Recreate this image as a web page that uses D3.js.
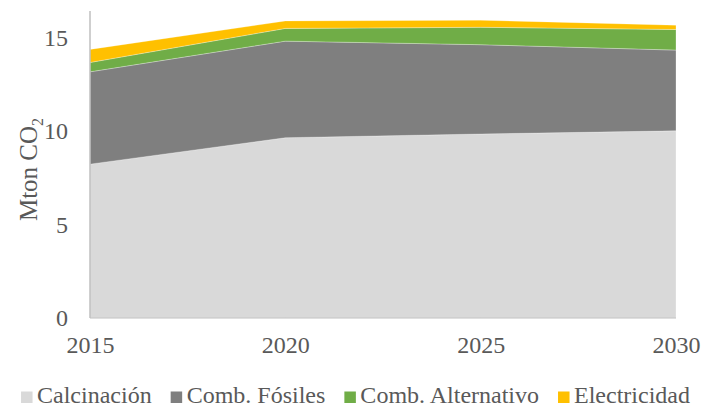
<!DOCTYPE html>
<html>
<head>
<meta charset="utf-8">
<script src="https://cdn.jsdelivr.net/npm/d3@7"></script>
<style>
  html, body { margin: 0; padding: 0; background: #fff; }
  svg { display: block; }
  text { font-family: 'Liberation Serif', serif; fill: #595959; }
</style>
</head>
<body>
<svg id="chart" width="701" height="407"></svg>
<script>
// Emissions by source, Mton CO2
const years = [2015, 2020, 2025, 2030];
const calcinacion = [8.22, 9.63, 9.83, 10.0];
const combFosiles = [4.93, 5.16, 4.77, 4.31];
const combAlternativo = [0.50, 0.68, 0.93, 1.10];
const electricidad = [0.70, 0.40, 0.38, 0.23];

const seriesNames = ["Calcinación", "Comb. Fósiles", "Comb. Alternativo", "Electricidad"];
const seriesColors = ["#d9d9d9", "#7f7f7f", "#70ad47", "#ffc000"];
const yTicks = [0, 5, 10, 15];
const yMax = 16.4;

const FONT = "'Liberation Serif', serif";
const svg = d3.select("#chart");
const plot = { left: 90, right: 676, top: 11, bottom: 318 };

const x = d3.scaleLinear().domain([years[0], years[years.length - 1]]).range([plot.left, plot.right]);
const y = d3.scaleLinear().domain([0, yMax]).range([plot.bottom, plot.top]);

const rows = years.map((yr, i) => ({
  year: yr,
  "Calcinación": calcinacion[i],
  "Comb. Fósiles": combFosiles[i],
  "Comb. Alternativo": combAlternativo[i],
  "Electricidad": electricidad[i]
}));

const stacked = d3.stack().keys(seriesNames)(rows);

const area = d3.area()
  .x(d => x(d.data.year))
  .y0(d => y(d[0]))
  .y1(d => y(d[1]));

svg.append("g").selectAll("path")
  .data(stacked)
  .join("path")
  .attr("d", area)
  .attr("fill", (d, i) => seriesColors[i])
  .attr("stroke", "rgba(255,255,255,0.35)")
  .attr("stroke-width", 0.8);

// Axis lines
svg.append("line")
  .attr("x1", x(years[0])).attr("x2", x(years[0]))
  .attr("y1", y(0)).attr("y2", y(yMax))
  .attr("stroke", "#bfbfbf").attr("stroke-width", 1.5);
svg.append("line")
  .attr("x1", x(years[0])).attr("x2", x(years[years.length - 1]))
  .attr("y1", y(0)).attr("y2", y(0))
  .attr("stroke", "#bfbfbf").attr("stroke-width", 1.2);

// Y tick labels
const yAxis = d3.axisLeft(y).tickValues(yTicks).tickSize(0).tickPadding(22).tickFormat(d3.format("d"));
const gy = svg.append("g").attr("transform", `translate(${plot.left},0)`).call(yAxis)
  .attr("font-family", FONT).attr("font-size", 24);
gy.select(".domain").remove();
gy.selectAll("text").attr("fill", "#595959").attr("dy", "0.33em");

// X tick labels
const xAxis = d3.axisBottom(x).tickValues(years).tickSize(0).tickPadding(18).tickFormat(d3.format("d"));
const gx = svg.append("g").attr("transform", `translate(0,${plot.bottom})`).call(xAxis)
  .attr("font-family", FONT).attr("font-size", 24);
gx.select(".domain").remove();
gx.selectAll("text").attr("fill", "#595959").attr("dy", "0.71em");

// Y axis title
const title = svg.append("text")
  .attr("transform", `translate(37,${(plot.top + plot.bottom) / 2 + 5}) rotate(-90)`)
  .attr("text-anchor", "middle")
  .attr("font-family", FONT)
  .attr("font-size", 25);
title.append("tspan").text("Mton CO");
title.append("tspan").text("2").attr("font-size", 16).attr("dy", 6);

// Legend
const legend = svg.append("g").attr("font-family", FONT);
let cursor = 0;
seriesNames.forEach((name, i) => {
  const item = legend.append("g").attr("transform", `translate(${cursor},0)`);
  item.append("rect").attr("x", 0).attr("y", -11.5).attr("width", 11.5).attr("height", 11.5).attr("fill", seriesColors[i]);
  const t = item.append("text").attr("x", 16).attr("y", 0).attr("font-size", 24).text(name);
  cursor += 16 + t.node().getComputedTextLength() + 19;
});
const legendWidth = cursor - 19;
legend.attr("transform", `translate(${355.5 - legendWidth / 2},403)`);
</script>
</body>
</html>
